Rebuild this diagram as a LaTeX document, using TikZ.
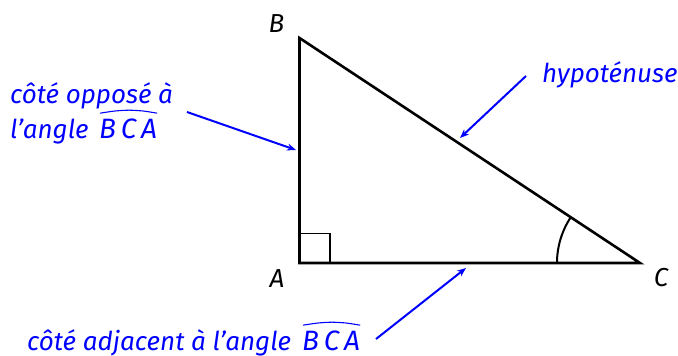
\documentclass[tikz,border=0pt]{standalone}
\usepackage{fontspec}
\setmainfont{Fira Sans}
\usetikzlibrary{arrows.meta}
\newcommand{\letBCA}{\fontsize{28}{35}\selectfont B\kern0.17em C\kern0.17em A}
\tikzset{
  side/.style={line width=2.6pt, black},
  lbl/.style={font=\fontsize{26}{30}\selectfont\itshape, inner sep=0pt},
  note/.style={font=\fontsize{26}{35}\selectfont\itshape, text=blue, inner sep=0pt, align=left},
  hat/.style={blue, line width=1.1pt, line join=round},
  pointer/.style={blue, line width=2pt, -{Stealth[length=9pt,width=7pt]}}
}
\begin{document}
\begin{tikzpicture}[x=1pt,y=-1pt]
\useasboundingbox (0,0) rectangle (678,356);
\coordinate (A) at (299.5,263);
\coordinate (B) at (299.5,38);
\coordinate (C) at (640,263);
\draw[side, line join=miter] (A) -- (B) -- (C) -- cycle;
\draw[line width=1.8pt] (299.5,233.5) -- (330,233.5) -- (330,263);
\draw[line width=2pt] (557,263) arc[start angle=180, end angle=213.6, radius=83];
\node[lbl] (lB) at (276.5,23.5) {B};
\node[lbl] (lA) at (277,279) {A};
\node[lbl] (lC) at (661,278) {C};
% labels
\node[note, anchor=base west] (opp1) at (10,103) {côté opposé à};
\node[note, anchor=base west] (opp2) at (10,138) {l’angle};
\node[note, anchor=base west] (oppBCA) at (99,138) {\letBCA};
\draw[hat] ([xshift=1pt,yshift=5pt]oppBCA.north west) .. controls ([xshift=-12pt,yshift=7.5pt]oppBCA.north) .. ([xshift=1pt,yshift=8pt]oppBCA.north)
  .. controls ([xshift=14pt,yshift=7.5pt]oppBCA.north) .. ([yshift=5pt]oppBCA.north east);
\node[note, anchor=base west] (hyp) at (542,82) {hypoténuse};
\node[note, anchor=base west] (adj) at (27,350) {côté adjacent à l’angle};
\node[note, anchor=base west] (adjBCA) at (302,350) {\letBCA};
\draw[hat] ([xshift=1pt,yshift=5pt]adjBCA.north west) .. controls ([xshift=-12pt,yshift=7.5pt]adjBCA.north) .. ([xshift=1pt,yshift=8pt]adjBCA.north)
  .. controls ([xshift=14pt,yshift=7.5pt]adjBCA.north) .. ([yshift=5pt]adjBCA.north east);
% pointers
\coordinate (oppS) at (187,112);
\coordinate (oppE) at (296,150);
\coordinate (hypS) at (526,76);
\coordinate (hypE) at (460,138);
\coordinate (adjS) at (376,339);
\coordinate (adjE) at (466,268);
\draw[pointer] (oppS) -- (oppE);
\draw[pointer] (hypS) -- (hypE);
\draw[pointer] (adjS) -- (adjE);
\end{tikzpicture}
\end{document}
